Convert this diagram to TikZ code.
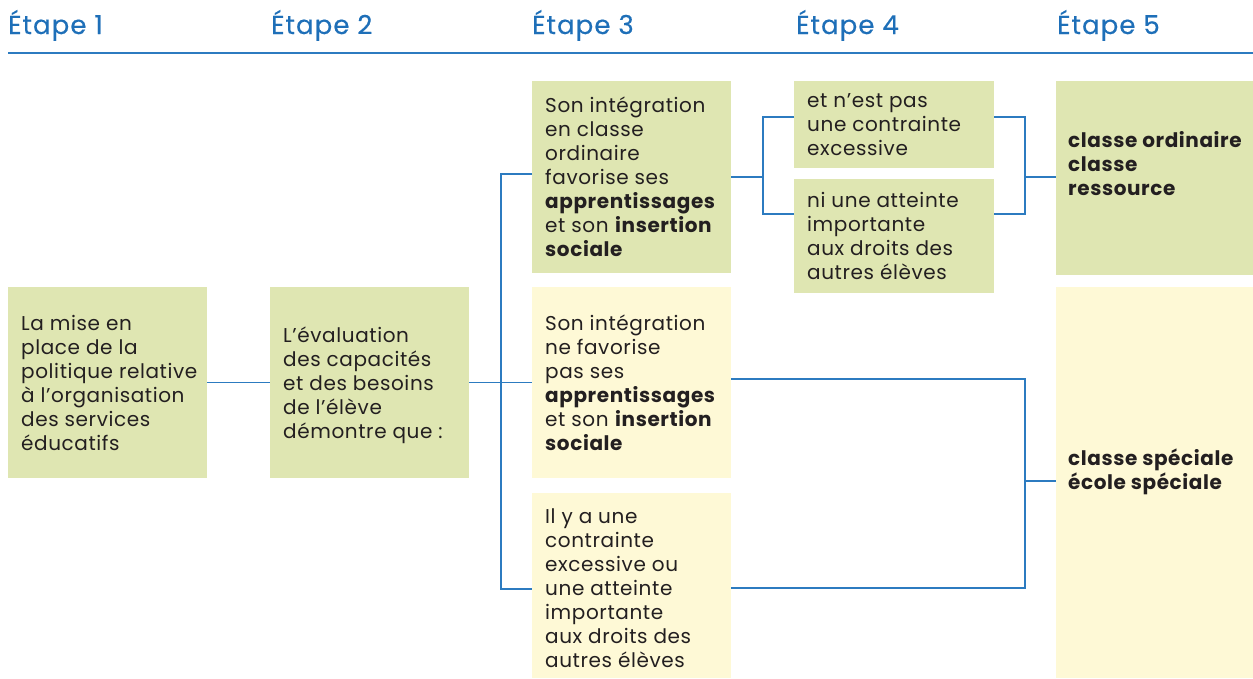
\documentclass[tikz,border=0pt]{standalone}
\usepackage{fontspec}
\setmainfont{Poppins}[LetterSpace=3]
\newfontfamily\headfont{Poppins}[LetterSpace=4,FakeBold=0.4]
\usetikzlibrary{calc}
\definecolor{boxgreen}{RGB}{223,230,178}
\definecolor{boxyellow}{RGB}{254,249,214}
\definecolor{lineblue}{RGB}{44,123,192}
\definecolor{headblue}{RGB}{30,111,184}
\definecolor{txt}{RGB}{35,31,32}
\newcommand{\fl}{\rule{0pt}{20pt}}
\tikzset{
  gbox/.style={rectangle, fill=boxgreen, inner sep=0pt, anchor=north west},
  ybox/.style={rectangle, fill=boxyellow, inner sep=0pt, anchor=north west},
  btext/.style={anchor=north west, inner sep=0pt, align=left, text=txt,
    font=\fontsize{20}{24}\selectfont},
  bbold/.style={btext, font=\fontsize{20}{24}\selectfont\bfseries},
  head/.style={anchor=base west, inner sep=0pt, text=headblue,
    font=\headfont\fontsize{26}{30}\selectfont},
  conn/.style={draw=lineblue, line width=1.4pt},
}
\begin{document}
\begin{tikzpicture}[x=1pt,y=-1pt]
\useasboundingbox (0,0) rectangle (1253,678);
% headers
\node[head] (h1) at (8,34) {Étape 1};
\node[head] (h2) at (271,34) {Étape 2};
\node[head] (h3) at (532,34) {Étape 3};
\node[head] (h4) at (796,34) {Étape 4};
\node[head] (h5) at (1057,34) {Étape 5};
\coordinate (rl) at (8,53);
\coordinate (rr) at (1253,53);
\draw[draw=lineblue, line width=1.2pt] (rl) -- (rr);
% boxes
\node[gbox, minimum width=199pt, minimum height=191pt] (b1) at (8,287) {};
\node[gbox, minimum width=199pt, minimum height=191pt] (b2) at (270,287) {};
\node[gbox, minimum width=199pt, minimum height=192pt] (b3a) at (532,81) {};
\node[ybox, minimum width=199pt, minimum height=191pt] (b3b) at (532,287) {};
\node[ybox, minimum width=199pt, minimum height=185pt] (b3c) at (532,493) {};
\node[gbox, minimum width=200pt, minimum height=87pt] (b4a) at (794,81) {};
\node[gbox, minimum width=200pt, minimum height=114pt] (b4b) at (794,179) {};
\node[gbox, minimum width=197pt, minimum height=194pt] (b5a) at (1056,81) {};
\node[ybox, minimum width=197pt, minimum height=391pt] (b5b) at (1056,287) {};
% texts
\node[btext] (t1) at (21,310) {\fl La mise en\\place de la\\politique relative\\à l’organisation\\des services\\éducatifs};
\node[btext] (t2) at (283,322) {\fl L’évaluation\\des capacités\\et des besoins\\de l’élève\\démontre que :};
\node[btext] (t3a) at (545,92) {\fl Son intégration\\en classe\\ordinaire\\favorise ses\\\textbf{apprentissages}\\et son \textbf{insertion}\\\textbf{sociale}};
\node[btext] (t3b) at (545,310) {\fl Son intégration\\ne favorise\\pas ses\\\textbf{apprentissages}\\et son \textbf{insertion}\\\textbf{sociale}};
\node[btext] (t3c) at (545,503) {\fl Il y a une\\contrainte\\excessive ou\\une atteinte\\importante\\aux droits des\\autres élèves};
\node[btext] (t4a) at (807,87) {\fl et n’est pas\\une contrainte\\excessive};
\node[btext] (t4b) at (807,187) {\fl ni une atteinte\\importante\\aux droits des\\autres élèves};
\node[bbold] (t5a) at (1068,127) {\fl classe ordinaire\\classe\\ressource};
\node[bbold] (t5b) at (1068,445) {\fl classe spéciale\\école spéciale};
% junctions
\coordinate (j1t) at (501,174);
\coordinate (j1b) at (501,589);
\coordinate (j2) at (763,177);
\coordinate (j2t) at (763,117);
\coordinate (j2b) at (763,214);
\coordinate (j3) at (1025,177);
\coordinate (j3t) at (1025,117);
\coordinate (j3b) at (1025,214);
\coordinate (j4) at (1025,481);
\coordinate (j4t) at (1025,379);
\coordinate (j4b) at (1025,588);
% connectors
\draw[conn] (b1.east) -- (b2.west);
\draw[conn] (b2.east) -- (b2.east -| b3b.west);
\draw[conn] (b3a.west |- j1t) -- (j1t) -- (j1b) -- (b3c.west |- j1b);
\draw[conn] (b3a.east |- j2) -- (j2);
\draw[conn] (b4a.west |- j2t) -- (j2t) -- (j2b) -- (b4b.west |- j2b);
\draw[conn] (b4a.east |- j3t) -- (j3t) -- (j3b) -- (b4b.east |- j3b);
\draw[conn] (j3) -- (b5a.west |- j3);
\draw[conn] (b3b.east |- j4t) -- (j4t) -- (j4b) -- (b3c.east |- j4b);
\draw[conn] (j4) -- (b5b.west |- j4);
\end{tikzpicture}
\end{document}
